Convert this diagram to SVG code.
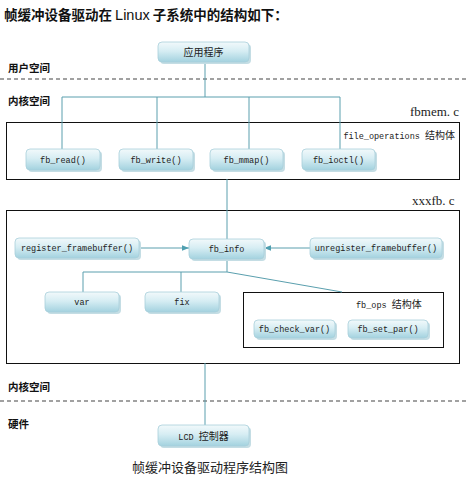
<svg xmlns="http://www.w3.org/2000/svg" width="468" height="486" viewBox="0 0 468 486">
<defs>
<linearGradient id="ng" x1="0" y1="0" x2="0" y2="1">
<stop offset="0" stop-color="#f2f9fb"/>
<stop offset="0.45" stop-color="#d6edf3"/>
<stop offset="1" stop-color="#a3d2df"/>
</linearGradient>
<marker id="ah" viewBox="0 0 10 10" refX="10" refY="5" markerWidth="7" markerHeight="7" orient="auto" markerUnits="userSpaceOnUse">
<path d="M0,1 L10,5 L0,9 Z" fill="#4f9fb0"/>
</marker>
</defs>
<style>
.n rect.s{fill:#c4dde4;}
.n rect.b{fill:url(#ng);stroke:#a8cfda;stroke-width:0.8;}
.t{font-family:"Liberation Mono","DejaVu Sans Mono",monospace;font-size:8.5px;fill:#222;text-anchor:middle;}
.cj{font-family:"Noto Sans CJK SC","Noto Sans",sans-serif;fill:#222;}
.lb{font-family:"Noto Sans CJK SC",sans-serif;font-size:10.5px;font-weight:bold;fill:#111;}
.fn{font-family:"Liberation Serif",serif;font-size:13px;fill:#222;}
.c{stroke:#5a9fae;stroke-width:1;fill:none;}
.box{fill:none;stroke:#111;stroke-width:1;}
.dash{stroke:#444;stroke-width:1.2;stroke-dasharray:4,3;}
</style>
<rect width="468" height="486" fill="#ffffff"/>
<text x="4" y="20" font-family="'Noto Sans CJK SC',sans-serif" font-size="13.5" font-weight="bold" fill="#111">帧缓冲设备驱动在 <tspan font-family="'Liberation Sans',sans-serif" font-weight="normal" font-size="14.5">Linux</tspan> 子系统中的结构如下：</text>

<text class="lb" x="8" y="72">用户空间</text>
<line class="dash" x1="0" y1="79" x2="468" y2="79"/>
<text class="lb" x="8" y="105">内核空间</text>
<text class="fn" x="410" y="116">fbmem. c</text>
<rect class="box" x="6.5" y="122.5" width="453" height="57"/>
<text x="455" y="139" text-anchor="end"><tspan font-family="'Liberation Mono',monospace" font-size="8.5" fill="#222">file_operations </tspan><tspan class="cj" font-size="10">结构体</tspan></text>

<text class="fn" x="412" y="205">xxxfb. c</text>
<rect class="box" x="6.5" y="210.5" width="453" height="153"/>
<rect class="box" x="243.5" y="292.5" width="200" height="55"/>
<text x="356" y="308"><tspan font-family="'Liberation Mono',monospace" font-size="8.5" fill="#222">fb_ops </tspan><tspan class="cj" font-size="10">结构体</tspan></text>

<text class="lb" x="8" y="391">内核空间</text>
<line class="dash" x1="0" y1="401" x2="468" y2="401"/>
<text class="lb" x="8" y="428">硬件</text>

<g id="connectors">
<path class="c" d="M205,62 V97 M62,97 H340 M62,97 V149 M157,97 V149 M249,97 V149 M340,97 V149"/>
<path class="c" d="M227,179 V272 M83,272 H227 M83,272 V292 M181,272 V292 M227,272 L342,292"/>
<path class="c" d="M139,248 H189" marker-end="url(#ah)"/>
<path class="c" d="M310,248 H264" marker-end="url(#ah)"/>
<path class="c" d="M205,363 V425"/>
</g>

<g id="app" class="n"><rect class="s" x="160" y="44" width="91" height="20" rx="4"/><rect class="b" x="158" y="42" width="91" height="20" rx="4"/><text class="cj" x="203.5" y="56" font-size="10" text-anchor="middle">应用程序</text></g>
<g id="fb_read" class="n"><rect class="s" x="28" y="151" width="74" height="21" rx="4"/><rect class="b" x="26" y="149" width="74" height="21" rx="4"/><text class="t" x="63" y="162.5">fb_read()</text></g>
<g id="fb_write" class="n"><rect class="s" x="121" y="151" width="74" height="21" rx="4"/><rect class="b" x="119" y="149" width="74" height="21" rx="4"/><text class="t" x="156" y="162.5">fb_write()</text></g>
<g id="fb_mmap" class="n"><rect class="s" x="212" y="151" width="73" height="21" rx="4"/><rect class="b" x="210" y="149" width="73" height="21" rx="4"/><text class="t" x="246.5" y="162.5">fb_mmap()</text></g>
<g id="fb_ioctl" class="n"><rect class="s" x="304" y="151" width="73" height="21" rx="4"/><rect class="b" x="302" y="149" width="73" height="21" rx="4"/><text class="t" x="338.5" y="162.5">fb_ioctl()</text></g>

<g id="register_framebuffer" class="n"><rect class="s" x="17" y="240" width="124" height="20" rx="4"/><rect class="b" x="15" y="238" width="124" height="20" rx="4"/><text class="t" x="77" y="251">register_framebuffer()</text></g>
<g id="fb_info" class="n"><rect class="s" x="191" y="241" width="75" height="20" rx="4"/><rect class="b" x="189" y="239" width="75" height="20" rx="4"/><text class="t" x="226.5" y="252">fb_info</text></g>
<g id="unregister_framebuffer" class="n"><rect class="s" x="312" y="240" width="132" height="20" rx="4"/><rect class="b" x="310" y="238" width="132" height="20" rx="4"/><text class="t" x="376" y="251">unregister_framebuffer()</text></g>

<g id="var" class="n"><rect class="s" x="47" y="294" width="74" height="20" rx="4"/><rect class="b" x="45" y="292" width="74" height="20" rx="4"/><text class="t" x="82" y="305">var</text></g>
<g id="fix" class="n"><rect class="s" x="147" y="294" width="74" height="20" rx="4"/><rect class="b" x="145" y="292" width="74" height="20" rx="4"/><text class="t" x="182" y="305">fix</text></g>
<g id="fb_check_var" class="n"><rect class="s" x="256" y="322" width="81" height="18" rx="4"/><rect class="b" x="254" y="320" width="81" height="18" rx="4"/><text class="t" x="294.5" y="332">fb_check_var()</text></g>
<g id="fb_set_par" class="n"><rect class="s" x="350" y="322" width="80" height="18" rx="4"/><rect class="b" x="348" y="320" width="80" height="18" rx="4"/><text class="t" x="388" y="332">fb_set_par()</text></g>

<g id="lcd" class="n"><rect class="s" x="160" y="427" width="91" height="21" rx="4"/><rect class="b" x="158" y="425" width="91" height="21" rx="4"/><text x="203.5" y="439.5" text-anchor="middle"><tspan font-family="'Liberation Mono',monospace" font-size="8.5" fill="#222">LCD </tspan><tspan class="cj" font-size="10">控制器</tspan></text></g>

<text x="210" y="472" text-anchor="middle" font-family="'Noto Sans CJK SC',sans-serif" font-size="13" fill="#222">帧缓冲设备驱动程序结构图</text>
</svg>
